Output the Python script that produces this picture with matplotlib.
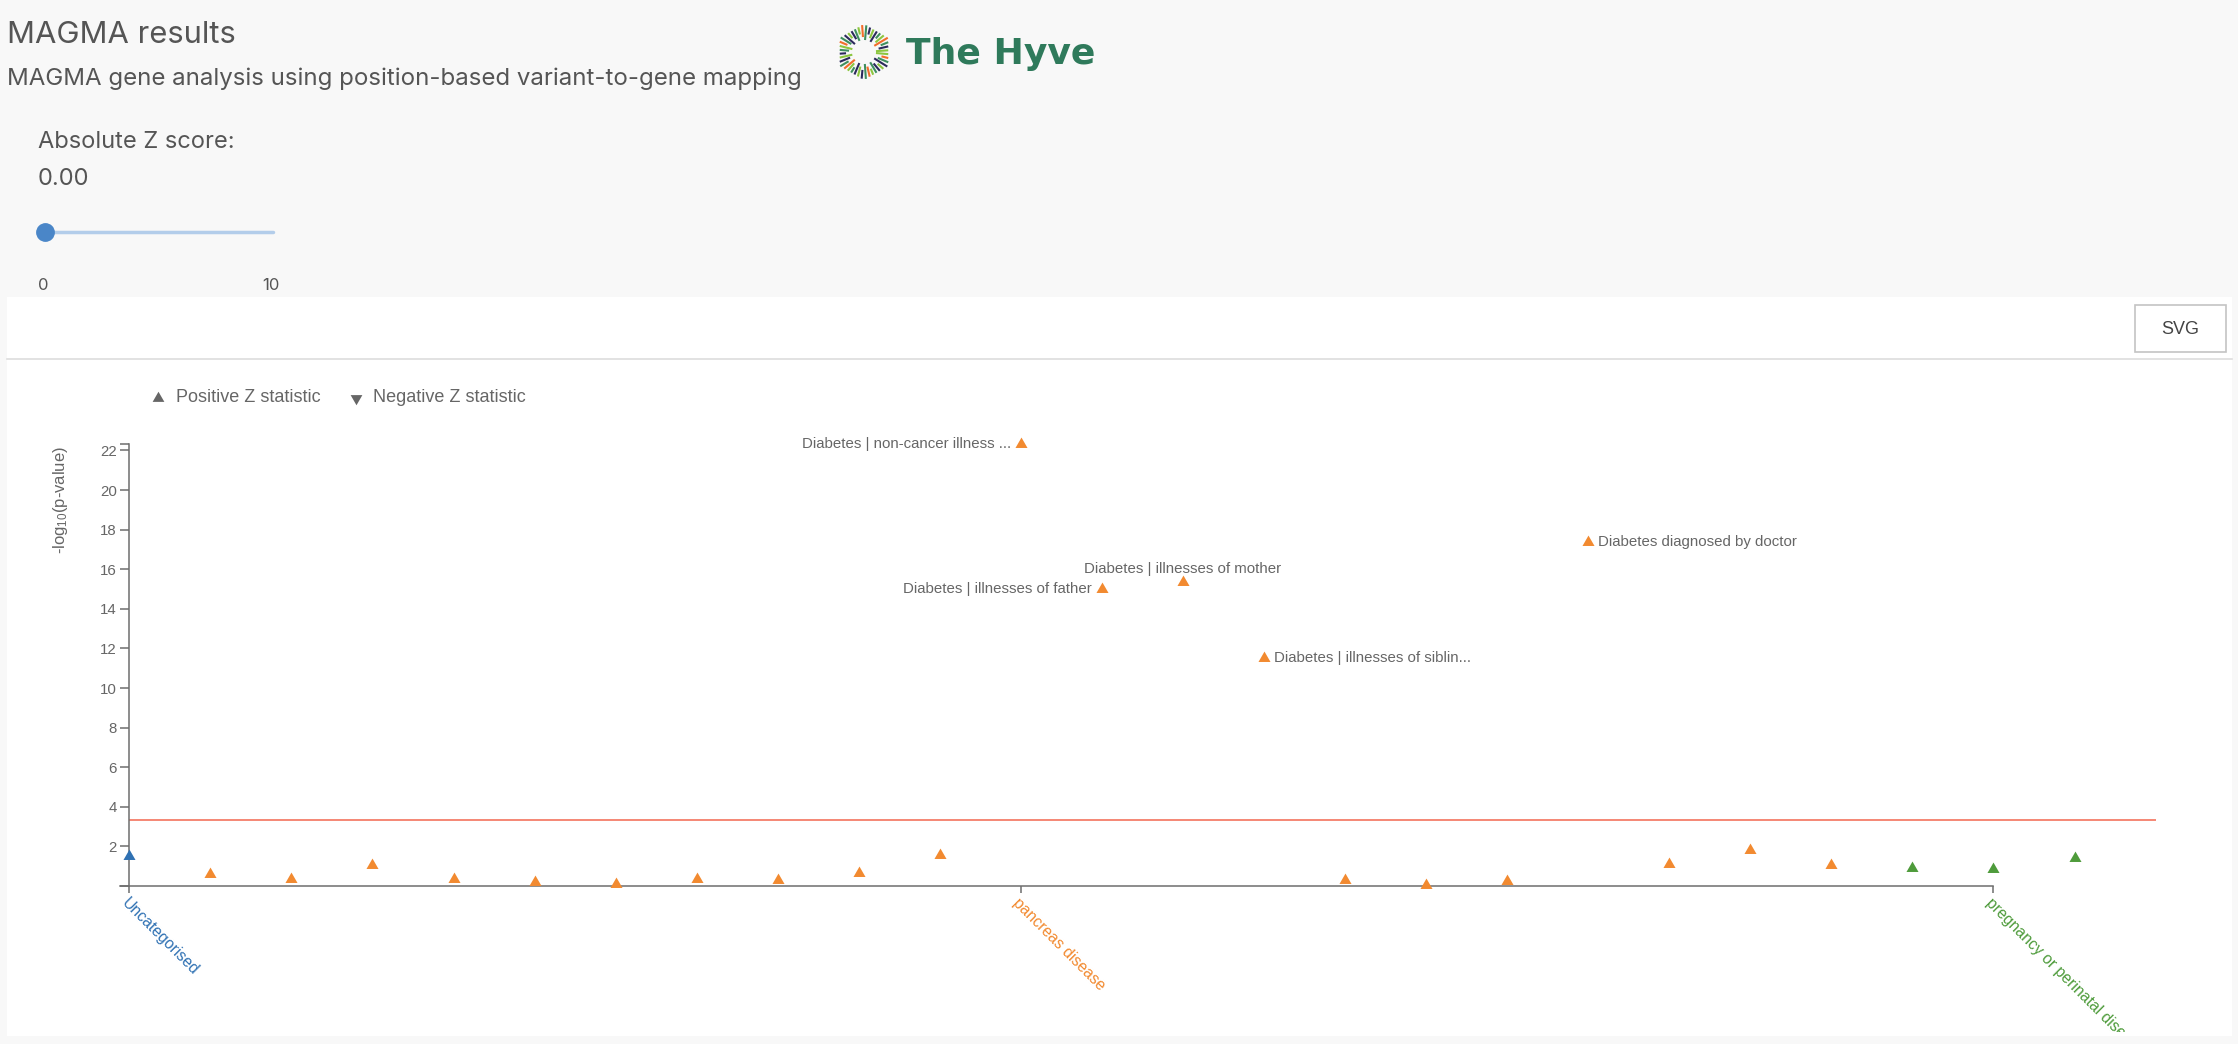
import matplotlib
matplotlib.use("Agg")
import matplotlib.pyplot as plt
import numpy as np
from matplotlib.patches import Rectangle
from matplotlib.transforms import Bbox, TransformedBbox

plt.rcParams["font.family"] = ["Liberation Sans", "DejaVu Sans"]
plt.rcParams["mathtext.default"] = "regular"

W, H = 2238, 1044

# ---- data ----
categories = ["Uncategorised", "pancreas disease", "pregnancy or perinatal disease"]
category_colors = ["#2f71b3", "#f28a30", "#4e9b3b"]
point_category = [0] + [1] * 21 + [2] * 3
neg_log10_p = [1.54, 0.61, 0.35, 1.07, 0.35, 0.22, 0.09, 0.37, 0.30, 0.68, 1.58,
               22.31, 15.00, 15.33, 11.54, 0.30, 0.05, 0.23, 17.36, 1.10, 1.83, 1.06,
               0.90, 0.84, 1.40]
z_positive = [True] * 25
point_labels = {11: "Diabetes | non-cancer illness ...",
                12: "Diabetes | illnesses of father",
                13: "Diabetes | illnesses of mother",
                14: "Diabetes | illnesses of siblin...",
                18: "Diabetes diagnosed by doctor"}
threshold = 3.33
ytick_values = list(range(0, 23, 2))

# where each label sits relative to its point
label_side = {11: "left", 12: "left", 13: "top", 14: "right", 18: "right"}

TEXT = "#666666"
AXIS = "#6e6e6e"

# equilateral triangles centred on the centroid, like d3.symbolTriangle
tri_up = [(0, 0.577), (-0.5, -0.289), (0.5, -0.289), (0, 0.577)]
tri_down = [(0, -0.577), (-0.5, 0.289), (0.5, 0.289), (0, -0.577)]

fig = plt.figure(figsize=(W / 100, H / 100), dpi=100, facecolor="#f8f8f8")

# background layer in pixel coordinates (page, header, panel)
bg = fig.add_axes([0, 0, 1, 1], zorder=0)
bg.set_xlim(0, W)
bg.set_ylim(H, 0)
bg.axis("off")

bg.text(7, 43, "MAGMA results", fontsize=22.3, color="#555555", family="Inter", va="baseline")
bg.text(7, 85, "MAGMA gene analysis using position-based variant-to-gene mapping",
        fontsize=17.3, color="#555555", family="Inter", va="baseline")

# logo: a ring of coloured rays plus the word mark
ray_colors = ["#8cc63f", "#2b2a5c", "#3f8f5f", "#f26d2b", "#8cc63f", "#3f8f5f", "#2b2a5c"]
cx, cy = 864, 52
for k in range(40):
    a = np.deg2rad(k * 9 + 4)
    ang = (np.rad2deg(a) - 90) % 60 - 30
    r_out = 28 * np.cos(np.deg2rad(30)) / np.cos(np.deg2rad(ang))
    r_in = 12 + (k % 3) * 3
    bg.plot([cx + r_in * np.cos(a), cx + r_out * np.cos(a)],
            [cy - r_in * np.sin(a), cy - r_out * np.sin(a)],
            color=ray_colors[k % len(ray_colors)], lw=1.5, solid_capstyle="butt")
bg.text(906, 64, "The Hyve", fontsize=26, fontweight="bold", color="#2f7a5b",
        family="DejaVu Sans", va="baseline")

# slider block
bg.text(38, 148, "Absolute Z score:", fontsize=17, color="#555555", family="Inter", va="baseline")
bg.text(38, 185, "0.00", fontsize=17, color="#555555", family="Inter", va="baseline")
bg.plot([43, 273], [232, 232], color="#b3cdea", lw=2.5, solid_capstyle="round")
bg.plot([45], [232], marker="o", ms=12.5, color="#4a86c8", mec="#4a86c8")
bg.text(43, 285, "0", fontsize=12, color="#555555", family="Inter", ha="center", va="center")
bg.text(271, 285, "10", fontsize=12, color="#555555", family="Inter", ha="center", va="center")

# chart panel
bg.add_patch(Rectangle((7, 297), 2225, 739, facecolor="white", edgecolor="none"))
bg.plot([7, 2232], [359, 359], color="#dddddd", lw=1.2)
bg.add_patch(Rectangle((2135, 305), 91, 47, facecolor="white", edgecolor="#c4c4c4", lw=1.2))
bg.text(2180.5, 329, "SVG", fontsize=13, color="#444444", ha="center", va="center")

# legend
bg.scatter([158], [397.7], marker=tri_up, s=95, color=TEXT, lw=0)
bg.text(176, 398, "Positive Z statistic", fontsize=13, color=TEXT, va="center")
bg.scatter([356], [397.7], marker=tri_down, s=95, color=TEXT, lw=0)
bg.text(372.7, 398, "Negative Z statistic", fontsize=13, color=TEXT, va="center")

bg.text(61, 500, "-log$_{10}$(p-value)", fontsize=12, color=TEXT, rotation=90,
        ha="center", va="center")

# ---- the Manhattan-style plot ----
x0, x1, y0, y1 = 129.3, 2155.6, 886.0, 444.3
ax = fig.add_axes([x0 / W, 1 - y0 / H, (x1 - x0) / W, (y0 - y1) / H], zorder=1)
ax.patch.set_alpha(0)
ymax = max(neg_log10_p)
ax.set_xlim(0, 25)
ax.set_ylim(0, ymax)

xs = np.arange(len(neg_log10_p))
for i, v in enumerate(neg_log10_p):
    ax.scatter(xs[i], v, marker=tri_up if z_positive[i] else tri_down, s=100,
               color=category_colors[point_category[i]], lw=0, clip_on=False, zorder=3)

ax.axhline(threshold, color="#f4735e", lw=1.2, zorder=2)

for i, name in point_labels.items():
    side = label_side[i]
    if side == "left":
        off, ha = (-7.2, 0), "right"
    elif side == "right":
        off, ha = (7.2, 0), "left"
    else:
        off, ha = (0, 9.5), "center"
    ax.annotate(name, (xs[i], neg_log10_p[i]), xytext=off, textcoords="offset points",
                ha=ha, va="center", fontsize=10.8, color=TEXT)

for s in ["top", "right"]:
    ax.spines[s].set_visible(False)
for s in ["left", "bottom"]:
    ax.spines[s].set_color(AXIS)
    ax.spines[s].set_linewidth(1.1)

cat_ticks = []
for c in range(len(categories)):
    idx = [i for i, pc in enumerate(point_category) if pc == c]
    cat_ticks.append((min(idx) + max(idx)) / 2)
ax.spines["bottom"].set_bounds(-9 / 81.05, cat_ticks[-1])

ax.set_yticks(ytick_values + [ymax], [""] + [str(t) for t in ytick_values[1:]] + [""])
ax.tick_params(axis="y", length=6.5, width=1.1, color=AXIS, labelcolor=TEXT,
               labelsize=10.8, pad=2.5)

ax.set_xticks(cat_ticks, categories)
ax.tick_params(axis="x", length=5, width=1.1, color=AXIS, labelsize=11.3, pad=2)
clip = TransformedBbox(Bbox.from_extents(7 / W, 1 - 1032 / H, 2232 / W, 1 - 297 / H),
                       fig.transFigure)
for lab, col in zip(ax.get_xticklabels(), category_colors):
    lab.set_color(col)
    lab.set_rotation(-45)
    lab.set_ha("left")
    lab.set_va("top")
    lab.set_rotation_mode("anchor")
    lab.set_clip_box(clip)
    lab.set_clip_on(True)

fig.savefig("out.png", dpi=100, facecolor=fig.get_facecolor())
